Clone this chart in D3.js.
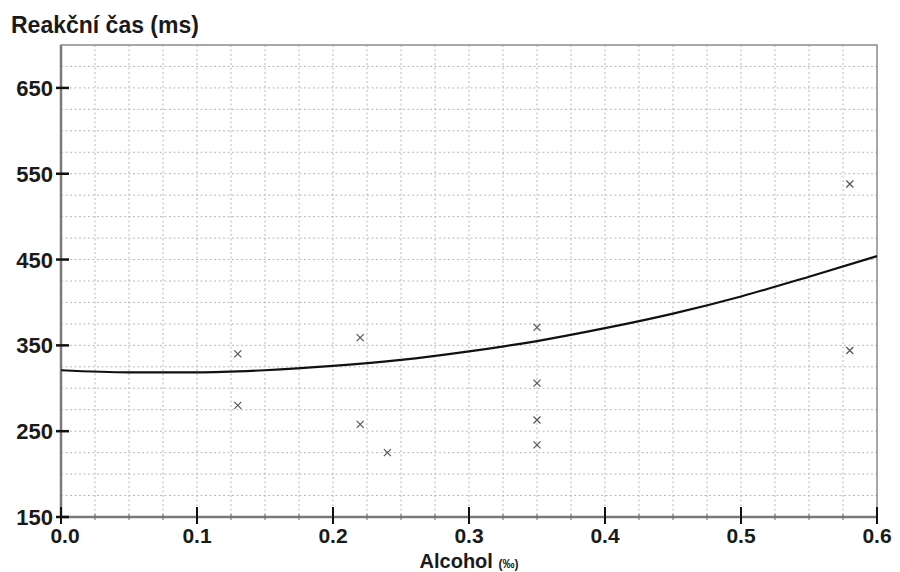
<!DOCTYPE html>
<html>
<head>
<meta charset="utf-8">
<script src="https://cdn.jsdelivr.net/npm/d3@7"></script>
<style>
  body { margin: 0; background: #fff; }
  text { font-family: "Liberation Sans", Arial, sans-serif; font-weight: bold; fill: #1a1a1a; }
</style>
</head>
<body>
<svg id="Chart"></svg>
<script>
// measured points (alcohol in promille, reaction time in ms)
let alcohol = [0.13, 0.13, 0.22, 0.22, 0.24, 0.35, 0.35, 0.35, 0.35, 0.58, 0.58]
let reaction = [340, 280, 359, 258, 225, 371, 306, 263, 234, 538, 344]

// fitted curve
let curveX = [0, 0.05, 0.1, 0.15, 0.2, 0.25, 0.3, 0.35, 0.4, 0.45, 0.5, 0.55, 0.6]
let curveY = [321, 318.5, 318.5, 321, 326, 333, 343, 355, 370, 387, 407, 430, 454]

let xTicks = [0, 0.1, 0.2, 0.3, 0.4, 0.5, 0.6]
let yTicks = [150, 250, 350, 450, 550, 650]

function getConfig() {
  let width = 900, height = 572
  let margin = { top: 45, left: 61, right: 23, bottom: 55 }
  let bodyWidth = width - margin.left - margin.right
  let bodyHeight = height - margin.top - margin.bottom
  let container = d3.select("#Chart").attr("width", width).attr("height", height)
  return { width, height, margin, bodyWidth, bodyHeight, container }
}

function getScales(config) {
  let xScale = d3.scaleLinear().domain([0, 0.6]).range([0, config.bodyWidth])
  let yScale = d3.scaleLinear().domain([150, 700]).range([config.bodyHeight, 0])
  return { xScale, yScale }
}

function drawGrid(scales, config) {
  let { xScale, yScale } = scales
  let { margin, bodyWidth, bodyHeight, container } = config
  let body = container.append("g").attr("transform", `translate(${margin.left},${margin.top})`)

  // dotted grid, every 0.025 and every 25 ms
  let gx = d3.range(1, 24).map(i => i * 0.025)
  let gy = d3.range(175, 700, 25)
  body.selectAll(".vgrid").data(gx).enter().append("line")
    .attr("x1", d => xScale(d)).attr("x2", d => xScale(d))
    .attr("y1", 0).attr("y2", bodyHeight)
    .attr("stroke", "#b8b8b8").attr("stroke-dasharray", "2,2.5")
  body.selectAll(".hgrid").data(gy).enter().append("line")
    .attr("x1", 0).attr("x2", bodyWidth)
    .attr("y1", d => yScale(d)).attr("y2", d => yScale(d))
    .attr("stroke", "#b8b8b8").attr("stroke-dasharray", "2,2.5")

  // frame
  body.append("rect").attr("width", bodyWidth).attr("height", bodyHeight)
    .attr("fill", "none").attr("stroke", "#8a8a8a").attr("stroke-width", 1.5)
  body.append("line").attr("x1", 0).attr("x2", 0).attr("y1", 0).attr("y2", bodyHeight)
    .attr("stroke", "#7a7a7a").attr("stroke-width", 2.5)
  body.append("line").attr("x1", 0).attr("x2", bodyWidth).attr("y1", bodyHeight).attr("y2", bodyHeight)
    .attr("stroke", "#7a7a7a").attr("stroke-width", 2.5)

  // minor ticks on x axis
  body.selectAll(".minor").data(gx).enter().append("line")
    .attr("x1", d => xScale(d)).attr("x2", d => xScale(d))
    .attr("y1", bodyHeight - 3).attr("y2", bodyHeight + 3)
    .attr("stroke", "#666")
  return body
}

function drawAxes(body, scales, config) {
  let { xScale, yScale } = scales
  let { bodyHeight } = config

  body.selectAll(".xtick").data(xTicks).enter().append("line")
    .attr("x1", d => xScale(d)).attr("x2", d => xScale(d))
    .attr("y1", bodyHeight - 10).attr("y2", bodyHeight + 7)
    .attr("stroke", "#111").attr("stroke-width", 2)
  body.selectAll(".xlabel").data(xTicks).enter().append("text")
    .attr("x", (d, i) => xScale(d) + (i == 0 ? 4 : 0))
    .attr("y", bodyHeight + 26)
    .attr("text-anchor", "middle")
    .style("font-size", "21px")
    .text(d => d.toFixed(1))

  body.selectAll(".ytick").data(yTicks).enter().append("line")
    .attr("x1", -5).attr("x2", 8)
    .attr("y1", d => yScale(d)).attr("y2", d => yScale(d))
    .attr("stroke", "#111").attr("stroke-width", 2.5)
  body.selectAll(".ylabel").data(yTicks).enter().append("text")
    .attr("x", -8)
    .attr("y", d => yScale(d) + 8)
    .attr("text-anchor", "end")
    .style("font-size", "22px")
    .text(d => d)

  let axisTitle = body.append("text")
    .attr("x", xScale(0.3))
    .attr("y", bodyHeight + 51)
    .attr("text-anchor", "middle")
    .style("font-size", "20px")
  axisTitle.append("tspan").text("Alcohol ")
  axisTitle.append("tspan").style("font-size", "12px").text("(‰)")

  config.container.append("text")
    .attr("x", 11).attr("y", 33)
    .style("font-size", "23px")
    .text("Reakční čas (ms)")
}

function drawData(body, scales) {
  let { xScale, yScale } = scales
  let line = d3.line()
    .x((d, i) => xScale(curveX[i]))
    .y(d => yScale(d))
    .curve(d3.curveMonotoneX)
  body.append("path").attr("d", line(curveY))
    .attr("fill", "none").attr("stroke", "#111").attr("stroke-width", 2.2)

  let s = 3.5
  let marks = body.selectAll(".mark").data(reaction).enter().append("g")
    .attr("transform", (d, i) => `translate(${xScale(alcohol[i])},${yScale(d)})`)
  marks.append("path")
    .attr("d", `M${-s},${-s}L${s},${s}M${-s},${s}L${s},${-s}`)
    .attr("stroke", "#555").attr("stroke-width", 1.2)
}

let config = getConfig()
let scales = getScales(config)
let body = drawGrid(scales, config)
drawData(body, scales)
drawAxes(body, scales, config)
</script>
</body>
</html>
